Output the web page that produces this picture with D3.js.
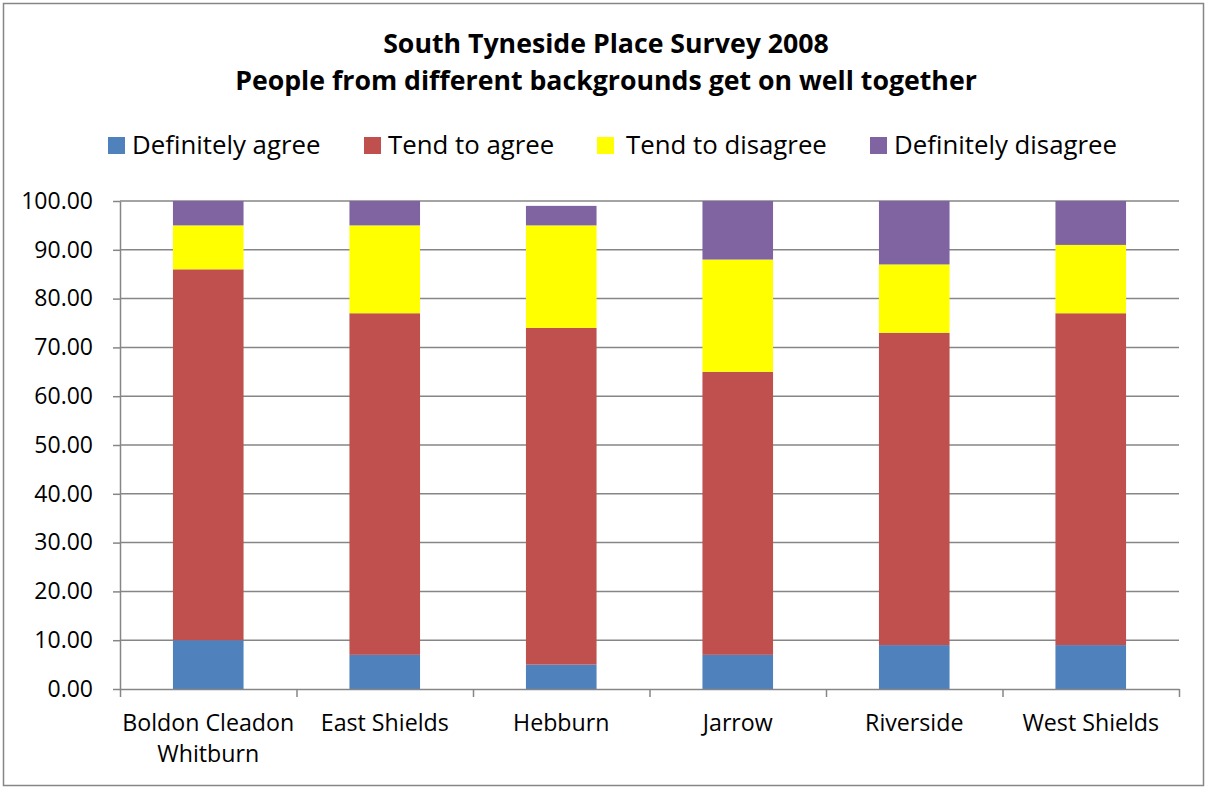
<!DOCTYPE html>
<html>
<head>
<meta charset="utf-8">
<script src="https://cdn.jsdelivr.net/npm/d3@7"></script>
<style>
  html, body { margin: 0; padding: 0; background: #fff; }
  svg { display: block; font-family: "Open Sans", sans-serif; }
</style>
</head>
<body>
<svg id="chart" width="1207" height="789"></svg>
<script>
// Survey areas and the share of answers (percent) for each response
const categories = ["Boldon Cleadon\nWhitburn", "East Shields", "Hebburn", "Jarrow", "Riverside", "West Shields"];
const seriesNames = ["Definitely agree", "Tend to agree", "Tend to disagree", "Definitely disagree"];
const definitelyAgree    = [10, 7, 5, 7, 9, 9];
const tendToAgree        = [76, 70, 69, 58, 64, 68];
const tendToDisagree     = [9, 18, 21, 23, 14, 14];
const definitelyDisagree = [5, 5, 4, 12, 13, 9];
const yTicks = [0, 10, 20, 30, 40, 50, 60, 70, 80, 90, 100];
const colors = ["#4F81BD", "#C0504D", "#FFFF00", "#8064A2"];
const titleLines = ["South Tyneside Place Survey 2008", "People from different backgrounds get on well together"];

const svg = d3.select("#chart");
const W = 1207, H = 789;
const gridColor = "#868686";

// outer frame
svg.append("rect").attr("x", 3.5).attr("y", 3.5).attr("width", W - 7).attr("height", H - 7)
  .attr("fill", "#fff").attr("stroke", gridColor).attr("stroke-width", 1.5);

// title
svg.append("g").selectAll("text").data(titleLines).join("text")
  .attr("x", 606).attr("y", (d, i) => 53 + i * 37)
  .attr("text-anchor", "middle").attr("font-weight", "bold").attr("font-size", 26.7)
  .attr("fill", "#000").text(d => d);

// legend
const legendX = [108, 364, 597, 870];
const legend = svg.append("g").selectAll("g").data(seriesNames).join("g")
  .attr("transform", (d, i) => `translate(${legendX[i]},137)`);
legend.append("rect").attr("width", 17).attr("height", 17).attr("fill", (d, i) => colors[i]);
legend.append("text").attr("x", (d, i) => i === 2 ? 29 : 24).attr("y", 17)
  .attr("font-size", 25.8).attr("fill", "#000").text(d => d);

// scales
const plotLeft = 120, plotRight = 1179, plotTop = 201, plotBottom = 689;
const x = d3.scaleBand().domain(categories).range([plotLeft, plotRight]).paddingInner(0.6).paddingOuter(0.3);
const y = d3.scaleLinear().domain([0, 100]).range([plotBottom, plotTop]);
const boundary = d3.scaleLinear().domain([0, categories.length]).range([plotLeft, plotRight]);

// gridlines
svg.append("g").selectAll("line").data(yTicks.filter(v => v > 0)).join("line")
  .attr("x1", plotLeft).attr("x2", plotRight).attr("y1", d => y(d)).attr("y2", d => y(d))
  .attr("stroke", gridColor).attr("stroke-width", 1.5);

// stacked bars
const rows = categories.map((c, i) => ({
  cat: c,
  "Definitely agree": definitelyAgree[i],
  "Tend to agree": tendToAgree[i],
  "Tend to disagree": tendToDisagree[i],
  "Definitely disagree": definitelyDisagree[i]
}));
const stacked = d3.stack().keys(seriesNames)(rows);
svg.append("g").selectAll("g").data(stacked).join("g")
  .attr("fill", (d, i) => colors[i])
  .selectAll("rect").data(d => d).join("rect")
  .attr("x", d => x(d.data.cat)).attr("width", x.bandwidth())
  .attr("y", d => y(d[1])).attr("height", d => y(d[0]) - y(d[1]));

// y axis
const yAxis = svg.append("g").attr("transform", `translate(${plotLeft},0)`)
  .call(d3.axisLeft(y).tickValues(yTicks).tickFormat(d3.format(".2f")).tickSizeOuter(0).tickSizeInner(7).tickPadding(20));
yAxis.select(".domain").attr("stroke", gridColor).attr("stroke-width", 1.5);
yAxis.selectAll(".tick line").attr("stroke", gridColor).attr("stroke-width", 1.5);
yAxis.selectAll(".tick text").attr("font-size", 23).attr("fill", "#000");
yAxis.attr("font-family", null).attr("font-size", null);

// x axis line and boundary ticks
const xAxis = svg.append("g").attr("transform", `translate(0,${plotBottom})`)
  .call(d3.axisBottom(boundary).ticks(categories.length).tickFormat("").tickSizeOuter(0).tickSizeInner(8));
xAxis.select(".domain").attr("stroke", gridColor).attr("stroke-width", 1.5);
xAxis.selectAll(".tick line").attr("stroke", gridColor).attr("stroke-width", 1.5);

// category labels
const labels = svg.append("g").selectAll("text").data(categories).join("text")
  .attr("text-anchor", "middle").attr("font-size", 23.2).attr("fill", "#000")
  .attr("transform", d => `translate(${x(d) + x.bandwidth() / 2},731)`);
labels.selectAll("tspan").data(d => d.split("\n")).join("tspan")
  .attr("x", 0).attr("dy", (d, i) => i === 0 ? 0 : 31).text(d => d);
</script>
</body>
</html>
